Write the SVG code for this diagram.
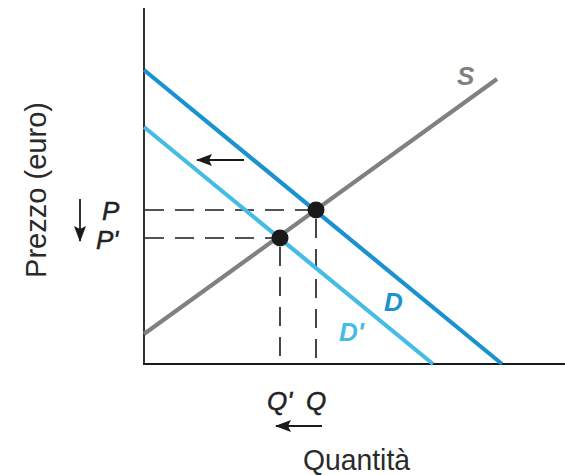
<svg xmlns="http://www.w3.org/2000/svg" width="565" height="475" viewBox="0 0 565 475">
  <defs>
    <style>
      .axis { stroke: #1a1a1a; stroke-width: 1.8; fill: none; }
      .dash { stroke: #1a1a1a; stroke-width: 1.6; stroke-dasharray: 19 11; fill: none; }
      .arrow { stroke: #1a1a1a; stroke-width: 1.8; fill: none; marker-end: url(#head); }
      .curve { stroke-width: 4.2; fill: none; }
      .lab { font-family: "Liberation Sans", Arial, sans-serif; font-style: italic; font-size: 26px; fill: #222; stroke: #222; stroke-width: 0.5; }
      .curvelab { font-family: "Liberation Sans", Arial, sans-serif; font-style: italic; font-weight: bold; font-size: 26px; }
      .title { font-family: "Liberation Sans", Arial, sans-serif; font-size: 30px; fill: #2a2a2a; }
      .dot { fill: #1a1a1a; }
    </style>
    <marker id="head" markerUnits="userSpaceOnUse" markerWidth="16" markerHeight="12" refX="15" refY="6" orient="auto">
      <path d="M0,0 L16,6 L0,12 L3,6 Z" fill="#1a1a1a"/>
    </marker>
  </defs>

  <g id="axes">
    <line class="axis" x1="144" y1="8" x2="144" y2="364"/>
    <line class="axis" x1="143" y1="364" x2="565" y2="364"/>
  </g>

  <g id="guides">
    <line class="dash" x1="145" y1="210" x2="316" y2="210"/>
    <line class="dash" x1="145" y1="238" x2="280" y2="238"/>
    <line class="dash" x1="316" y1="219" x2="316" y2="363"/>
    <line class="dash" x1="280" y1="247" x2="280" y2="363"/>
  </g>

  <g id="curves">
    <line id="S" class="curve" stroke="#808080" x1="144" y1="334" x2="497" y2="79"/>
    <line id="Dprime" class="curve" stroke="#45bce4" x1="144" y1="127" x2="433" y2="364"/>
    <line id="D" class="curve" stroke="#1b92d0" x1="144" y1="70" x2="502" y2="364"/>
  </g>

  <g id="points">
    <circle id="E" class="dot" cx="316" cy="210" r="8.5"/>
    <circle id="Eprime" class="dot" cx="280" cy="238" r="8.5"/>
  </g>

  <g id="shift-arrows">
    <line class="arrow" x1="244" y1="160" x2="197" y2="160"/>
    <line class="arrow" x1="322" y1="426" x2="276" y2="426"/>
    <line class="arrow" x1="80" y1="199" x2="80" y2="241"/>
  </g>

  <g id="labels">
    <text class="curvelab" x="457" y="85" fill="#808080">S</text>
    <text class="curvelab" x="384" y="311" fill="#1b92d0">D</text>
    <text class="curvelab" x="339" y="341" fill="#45bce4">D'</text>
    <text class="lab" x="102" y="220">P</text>
    <text class="lab" x="96" y="249">P'</text>
    <text class="lab" x="267" y="410">Q'</text>
    <text class="lab" x="306" y="410">Q</text>
    <text class="title" x="303" y="470" textLength="107" lengthAdjust="spacingAndGlyphs">Quantità</text>
    <text class="title" transform="translate(46,190) rotate(-90)" text-anchor="middle" textLength="176" lengthAdjust="spacingAndGlyphs">Prezzo (euro)</text>
  </g>
</svg>
